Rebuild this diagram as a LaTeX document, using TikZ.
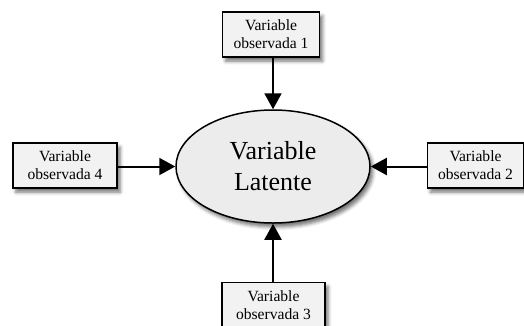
\documentclass[tikz,border=0pt]{standalone}
\usepackage{fontspec}
\setmainfont{Liberation Serif}
\usetikzlibrary{shadows.blur,arrows.meta,shapes.geometric}
\begin{document}
\begin{tikzpicture}[x=1pt,y=-1pt,
  softshadow/.style={blur shadow={shadow xshift=3pt,shadow yshift=-4pt,shadow blur radius=3.5pt,shadow opacity=55}},
  obsbox/.style={draw=black,line width=1.6pt,fill=gray!10,minimum width=97pt,minimum height=45pt,
    inner sep=0pt,align=center,font=\fontsize{15.6}{18}\selectfont,softshadow},
  latent/.style={draw=black,line width=1.5pt,ellipse,fill=gray!15,minimum width=194pt,minimum height=113pt,
    inner sep=0pt,align=center,font=\fontsize{26}{31}\selectfont,softshadow},
  link/.style={line width=2pt,-{Triangle[length=16pt,width=17pt]}}]
\useasboundingbox (0,0) rectangle (524,325);
\node[latent] (lat) at (273,166.5) {Variable\\Latente};
\node[obsbox] (o1) at (271,34.5) {Variable\\observada 1};
\node[obsbox,minimum width=96pt] (o2) at (475.5,165.5) {Variable\\observada 2};
\node[obsbox,minimum width=103pt] (o3) at (273.5,305) {Variable\\observada 3};
\node[obsbox,minimum width=104pt] (o4) at (65,165.5) {Variable\\observada 4};
\draw[link] (o1.south -| lat.north) -- (lat.north);
\draw[link] (o2.west |- lat.east) -- (lat.east);
\draw[link] (o3.north -| lat.south) -- (lat.south);
\draw[link] (o4.east |- lat.west) -- (lat.west);
\end{tikzpicture}
\end{document}
